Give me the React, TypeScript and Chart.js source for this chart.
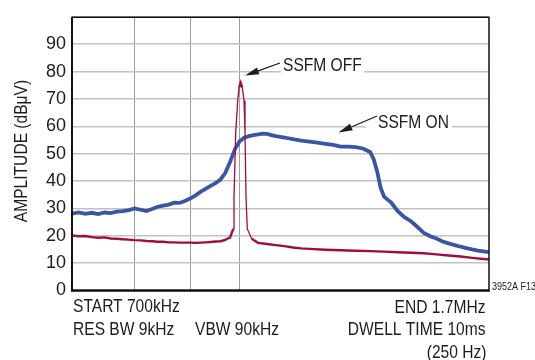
import { useEffect, useRef } from 'react';
import { Chart, registerables } from 'chart.js';

Chart.register(...registerables);

// Frequency (MHz) grid lines shown on the log axis
const xGridTicks = [0.8, 0.9, 1.0];
const yTickStep = 10;

// SSFM ON trace (blue)
const blueFreq = [
  0.70, 0.71, 0.72, 0.73, 0.74, 0.75, 0.76, 0.77, 0.78, 0.79,
  0.80, 0.81, 0.82, 0.83, 0.84, 0.85, 0.86, 0.87, 0.88, 0.89,
  0.90, 0.91, 0.92, 0.93, 0.94, 0.95, 0.96, 0.97, 0.98, 0.99,
  1.00, 1.01, 1.02, 1.03, 1.04, 1.05, 1.06, 1.07, 1.08, 1.10,
  1.12, 1.14, 1.16, 1.18, 1.20, 1.22, 1.24, 1.26, 1.28, 1.30,
  1.32, 1.33, 1.34, 1.35, 1.36, 1.37, 1.38, 1.39, 1.40, 1.42,
  1.44, 1.46, 1.48, 1.50, 1.52, 1.54, 1.56, 1.58, 1.60, 1.62,
  1.64, 1.66, 1.68, 1.70,
];
const blueAmp = [
  28.1, 28.5, 28.0, 28.4, 27.9, 28.5, 28.3, 28.8, 29.0, 29.4,
  30.0, 29.5, 29.0, 29.8, 30.6, 31.0, 31.4, 32.1, 32.0, 32.7,
  33.6, 34.7, 36.0, 37.1, 38.2, 39.2, 40.5, 43.0, 47.0, 51.6,
  54.5, 55.8, 56.4, 56.8, 57.0, 57.3, 57.2, 56.8, 56.4, 55.9,
  55.3, 54.8, 54.4, 54.0, 53.6, 53.2, 52.6, 52.6, 52.4, 51.9,
  50.6, 48.0, 43.5, 37.5, 34.3, 33.2, 32.2, 30.6, 29.0, 26.8,
  25.3, 23.2, 21.0, 19.8, 19.0, 17.9, 17.2, 16.6, 16.0, 15.5,
  15.0, 14.6, 14.3, 14.0,
];

// SSFM OFF trace (red)
const redFreq = [
  0.70, 0.71, 0.72, 0.73, 0.74, 0.75, 0.76, 0.77, 0.78, 0.79,
  0.80, 0.81, 0.82, 0.83, 0.84, 0.85, 0.86, 0.87, 0.88, 0.89,
  0.90, 0.91, 0.92, 0.93, 0.94, 0.95, 0.96, 0.97, 0.975, 0.9797,
  0.9866, 0.9881, 0.9917, 0.9959, 0.9987, 1.0023, 1.0057, 1.0094, 1.0115, 1.0137,
  1.0165, 1.026, 1.04, 1.06, 1.08, 1.10, 1.12, 1.14, 1.16, 1.20,
  1.24, 1.28, 1.32, 1.36, 1.40, 1.44, 1.48, 1.52, 1.56, 1.60,
  1.64, 1.68, 1.70,
];
const redAmp = [
  20.1, 19.8, 19.9, 19.5, 19.3, 19.4, 19.0, 18.9, 18.7, 18.6,
  18.4, 18.3, 18.1, 18.0, 17.8, 17.8, 17.6, 17.6, 17.5, 17.5,
  17.5, 17.4, 17.5, 17.6, 17.7, 17.9, 18.0, 18.5, 19.0, 19.3,
  22.5, 34.0, 57.7, 69.4, 74.1, 75.9, 74.1, 69.4, 57.7, 34.0,
  22.5, 18.9, 17.4, 17.0, 16.6, 16.2, 15.7, 15.4, 15.2, 14.9,
  14.7, 14.5, 14.4, 14.2, 14.0, 13.8, 13.6, 13.2, 12.8, 12.4,
  11.9, 11.5, 11.3,
];

const yTitle = 'AMPLITUDE (dBμV)';
const offLabel = 'SSFM OFF';
const onLabel = 'SSFM ON';
const footLeft1 = 'START 700kHz';
const footLeft2 = 'RES BW 9kHz';
const footMid2 = 'VBW 90kHz';
const footRight1 = 'END 1.7MHz';
const footRight2 = 'DWELL TIME 10ms';
const footRight3 = '(250 Hz)';
const figId = '3952A F13';

const BLUE = '#3a55a5';
const RED = '#a00c3e';
const INK = '#1c1c1c';
const SANS = '"Liberation Sans", Arial, sans-serif';
const SQUEEZE = 0.82;

function condensed(
  ctx: CanvasRenderingContext2D,
  text: string,
  x: number,
  y: number,
  align: CanvasTextAlign,
  size: number,
) {
  ctx.save();
  ctx.translate(x, y);
  ctx.scale(SQUEEZE, 1);
  ctx.fillStyle = INK;
  ctx.font = `${size}px ${SANS}`;
  ctx.textAlign = align;
  ctx.textBaseline = 'alphabetic';
  ctx.fillText(text, 0, 0);
  ctx.restore();
}

function arrow(ctx: CanvasRenderingContext2D, x1: number, y1: number, x2: number, y2: number) {
  const ang = Math.atan2(y2 - y1, x2 - x1);
  const len = 14;
  const hw = 3.6;
  const bx = x2 - len * Math.cos(ang);
  const by = y2 - len * Math.sin(ang);
  ctx.save();
  ctx.strokeStyle = INK;
  ctx.fillStyle = INK;
  ctx.lineWidth = 1.3;
  ctx.beginPath();
  ctx.moveTo(x1, y1);
  ctx.lineTo(bx, by);
  ctx.stroke();
  ctx.beginPath();
  ctx.moveTo(x2, y2);
  ctx.lineTo(bx + hw * Math.sin(ang), by - hw * Math.cos(ang));
  ctx.lineTo(bx - hw * Math.sin(ang), by + hw * Math.cos(ang));
  ctx.closePath();
  ctx.fill();
  ctx.restore();
}

export default function App() {
  const ref = useRef<HTMLCanvasElement>(null);

  useEffect(() => {
    if (!ref.current) return;

    const annot = {
      id: 'annot',
      beforeDatasetsDraw(chart: any) {
        const ctx: CanvasRenderingContext2D = chart.ctx;
        const y = chart.scales.y;
        const y80 = y.getPixelForValue(80);
        const y60 = y.getPixelForValue(60);
        ctx.save();
        ctx.fillStyle = '#ffffff';
        ctx.fillRect(281, y80 - 3, 83, 6);
        ctx.fillRect(366, y60 - 3, 86, 6);
        ctx.restore();
        condensed(ctx, offLabel, 283, 71, 'left', 19);
        condensed(ctx, onLabel, 378, 128.3, 'left', 19);
        arrow(ctx, 280, 63, 245, 75.5);
        arrow(ctx, 377, 116, 338.5, 132.5);
      },
      afterDraw(chart: any) {
        const ctx: CanvasRenderingContext2D = chart.ctx;
        const a = chart.chartArea;
        ctx.save();
        ctx.strokeStyle = '#111';
        ctx.lineWidth = 1.5;
        ctx.beginPath();
        ctx.moveTo(a.left, a.top + 0.5);
        ctx.lineTo(a.right, a.top + 0.5);
        ctx.moveTo(a.right, a.top);
        ctx.lineTo(a.right, a.bottom);
        ctx.stroke();
        ctx.lineWidth = 2;
        ctx.beginPath();
        ctx.moveTo(a.left, a.top);
        ctx.lineTo(a.left, a.bottom + 1);
        ctx.stroke();
        ctx.lineWidth = 2.5;
        ctx.beginPath();
        ctx.moveTo(a.left - 1, a.bottom);
        ctx.lineTo(a.right + 0.75, a.bottom);
        ctx.stroke();
        ctx.restore();

        condensed(ctx, footLeft1, 73, 312, 'left', 19);
        condensed(ctx, footLeft2, 73, 334.5, 'left', 19);
        condensed(ctx, footMid2, 195, 334.5, 'left', 19);
        condensed(ctx, footRight1, 485.5, 313, 'right', 19);
        condensed(ctx, footRight2, 485.5, 335, 'right', 19);
        condensed(ctx, footRight3, 486.5, 357.5, 'right', 19);
        condensed(ctx, figId, 492, 289.5, 'left', 11);

        ctx.save();
        ctx.translate(27, 151);
        ctx.rotate(-Math.PI / 2);
        condensed(ctx, yTitle, 0, 0, 'center', 19);
        ctx.restore();
      },
    };

    const chart = new Chart(ref.current, {
      type: 'line',
      data: {
        datasets: [
          {
            label: offLabel,
            data: redFreq.map((f, i) => ({ x: f, y: redAmp[i] })),
            borderColor: RED,
            borderWidth: 2.4,
            pointRadius: 0,
            tension: 0,
            segment: {
              borderWidth: (c: any) =>
                Math.abs(c.p1.parsed.y - c.p0.parsed.y) > 3.5 ? 1.3 : undefined,
            },
          },
          {
            label: onLabel,
            data: blueFreq.map((f, i) => ({ x: f, y: blueAmp[i] })),
            borderColor: BLUE,
            borderWidth: 3.8,
            pointRadius: 0,
            tension: 0,
          },
        ],
      },
      options: {
        responsive: false,
        animation: false,
        layout: { padding: { top: 6.5, right: 46, left: 0, bottom: 0 } },
        plugins: { legend: { display: false }, tooltip: { enabled: false } },
        scales: {
          x: {
            type: 'logarithmic',
            min: 0.7,
            max: 1.7,
            afterBuildTicks: (s: any) => {
              s.ticks = xGridTicks.map((v) => ({ value: v }));
            },
            ticks: { display: false },
            grid: { color: '#9c9c9c', lineWidth: 1, drawTicks: false },
            border: { display: false },
            afterFit: (s: any) => {
              s.height = 69.5;
            },
          },
          y: {
            min: 0,
            max: 100,
            ticks: {
              stepSize: yTickStep,
              padding: 6,
              color: INK,
              font: { family: SANS, size: 18 },
              callback: (v: any) => (v === 100 ? '' : String(v)),
            },
            grid: { color: '#c2c2c2', lineWidth: 1.5, drawTicks: false },
            border: { display: false },
            afterFit: (s: any) => {
              s.width = 72;
            },
          },
        },
      },
      plugins: [annot],
    } as any);

    return () => chart.destroy();
  }, []);

  return (
    <div style={{ position: 'fixed', left: 0, top: 0, width: 535, height: 360, background: '#fff' }}>
      <canvas ref={ref} width={535} height={360} style={{ display: 'block' }} />
    </div>
  );
}
